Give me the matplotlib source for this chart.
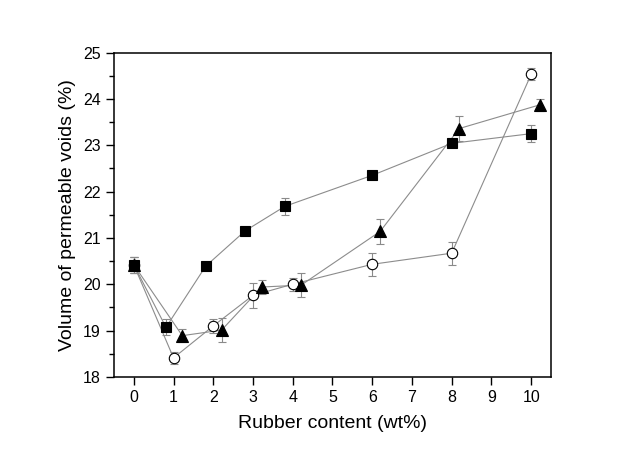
import matplotlib
matplotlib.use("Agg")
import matplotlib.pyplot as plt

plt.rcParams["font.family"] = ["Liberation Sans", "DejaVu Sans"]

# square series
sq_x = [0.0, 0.81, 1.81, 2.8, 3.8, 6.0, 8.0, 10.0]
sq_y = [20.42, 19.07, 20.39, 21.15, 21.68, 22.35, 23.04, 23.25]
sq_err = [0.17, 0.17, 0.04, 0.04, 0.18, 0.04, 0.04, 0.18]

# triangle series
tri_x = [0.0, 1.22, 2.21, 3.22, 4.21, 6.2, 8.19, 10.21]
tri_y = [20.42, 18.89, 19.01, 19.94, 19.98, 21.14, 23.36, 23.87]
tri_err = [0.17, 0.14, 0.26, 0.15, 0.26, 0.27, 0.26, 0.13]

# open circle series
cir_x = [0.0, 1.0, 2.0, 3.0, 4.0, 6.0, 8.0, 10.0]
cir_y = [20.42, 18.41, 19.1, 19.76, 20.0, 20.43, 20.67, 24.53]
cir_err = [0.17, 0.13, 0.16, 0.27, 0.14, 0.25, 0.25, 0.13]

x_ticks = list(range(0, 11))
y_ticks = list(range(18, 26))

fig = plt.figure(figsize=(6.4, 4.53), dpi=100)
ax = fig.add_axes([0.178, 0.168, 0.683, 0.716])

line_kw = dict(color="#8c8c8c", linewidth=0.8)
err_kw = dict(fmt="none", ecolor="#8a8a8a", elinewidth=0.8, capsize=3, capthick=0.8)

for xs, ys, es, mk, ms, fc in [
    (cir_x, cir_y, cir_err, "o", 7.5, "white"),
    (sq_x, sq_y, sq_err, "s", 6.5, "black"),
    (tri_x, tri_y, tri_err, "^", 8, "black"),
]:
    ax.errorbar(xs, ys, yerr=es, zorder=2, **err_kw)
    ax.plot(xs, ys, zorder=2, **line_kw)
    ax.plot(xs, ys, linestyle="none", marker=mk, markersize=ms,
            markerfacecolor=fc, markeredgecolor="black", markeredgewidth=0.8, zorder=3)

ax.set_xlim(-0.5, 10.5)
ax.set_ylim(18, 25)
ax.set_xticks(x_ticks)
ax.set_yticks(y_ticks)
ax.set_yticks([y + 0.5 for y in y_ticks[:-1]], minor=True)
ax.tick_params(axis="both", which="major", direction="out", length=6, width=1, labelsize=11.5)
ax.tick_params(axis="y", which="minor", direction="out", length=3.5, width=1)
for s in ax.spines.values():
    s.set_linewidth(1.1)

ax.set_xlabel("Rubber content (wt%)", fontsize=14, labelpad=7)
ax.set_ylabel("Volume of permeable voids (%)", fontsize=14, labelpad=5)

fig.savefig("out.png", dpi=100)
